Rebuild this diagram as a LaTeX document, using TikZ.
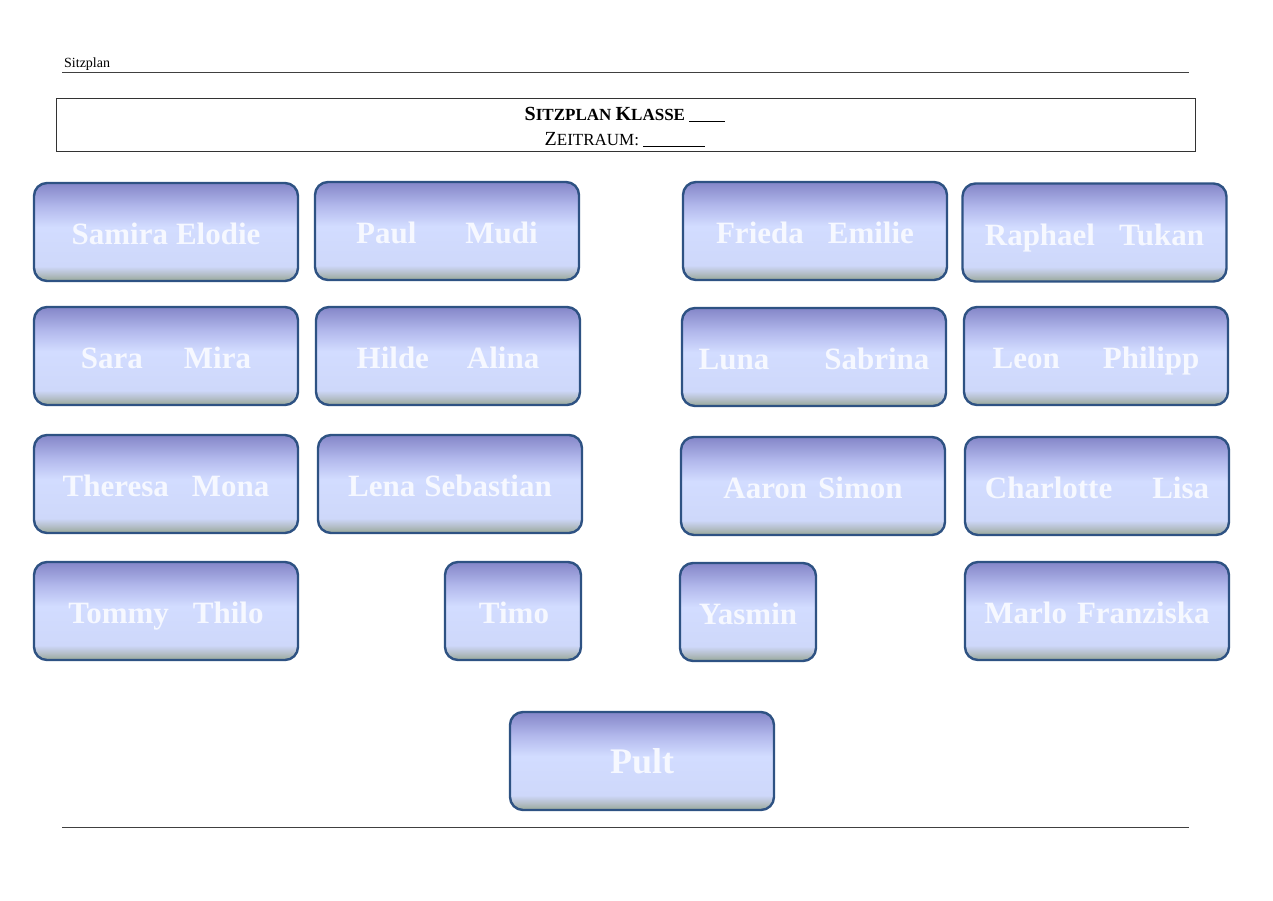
\documentclass[tikz,border=0pt]{standalone}
\usepackage{fontspec}
\setmainfont{Liberation Serif}
\definecolor{shA}{HTML}{98A898}
\definecolor{shB}{HTML}{B4BEC8}
\definecolor{shC}{HTML}{CED8FA}
\definecolor{shD}{HTML}{D2DCFF}
\definecolor{shE}{HTML}{B2B8EC}
\definecolor{shF}{HTML}{8486C8}
\definecolor{seatborder}{HTML}{2E5283}
\definecolor{seattext}{HTML}{F6F8FF}
\pgfdeclareverticalshading{seatshade}{100bp}{color(0bp)=(shA); color(25bp)=(shA); color(28.5bp)=(shB); color(32.5bp)=(shC); color(52.5bp)=(shD); color(63bp)=(shE); color(75bp)=(shF); color(100bp)=(shF)}
\tikzset{
  seatbox/.style={draw=seatborder, line width=2.4pt, rounded corners=13pt, shading=seatshade,
    minimum height=98pt, minimum width=264pt, inner sep=0pt, text=seattext,
    text height=28pt, text depth=3pt,
    font=\fontsize{31}{34}\selectfont\bfseries},
  smallseat/.style={seatbox, minimum width=136pt},
  rule/.style={draw=black!75, line width=0.8pt}
}
\newcommand{\gap}[1]{\hspace{#1pt}}
\begin{document}
\begin{tikzpicture}[x=1pt,y=-1pt]
\useasboundingbox[fill=white] (0,0) rectangle (1273,900);
% header
\node[anchor=base west, font=\fontsize{14}{16}\selectfont, inner sep=0pt] (hdr) at (64,67) {Sitzplan};
\coordinate (hl1) at (62,72); \coordinate (hl2) at (1189,72);
\draw[rule] (hl1) -- (hl2);
\node[draw=black!80, line width=0.8pt, minimum width=1139pt, minimum height=53pt, inner sep=0pt] (title) at (625.5,124.5) {};
\node[font=\fontsize{17}{19}\selectfont\bfseries, anchor=base, inner sep=0pt] (t1) at (625,120) {{\fontsize{20}{20}\selectfont S}ITZPLAN {\fontsize{20}{20}\selectfont K}LASSE \underline{\hspace{36pt}}};
\node[font=\fontsize{17}{19}\selectfont, anchor=base, inner sep=0pt] (t2) at (625,145) {{\fontsize{20}{20}\selectfont Z}EITRAUM: \underline{\hspace{62pt}}};
% row 1
\node[seatbox] (s1) at (166,232) {Samira\gap{8}Elodie};
\node[seatbox] (s2) at (447,231) {Paul\gap{49}Mudi};
\node[seatbox] (s3) at (815,231) {Frieda\gap{24}Emilie};
\node[seatbox] (s4) at (1094.5,232.5) {Raphael\gap{24}Tukan};
% row 2
\node[seatbox] (s5) at (166,356) {Sara\gap{41}Mira};
\node[seatbox] (s6) at (448,356) {Hilde\gap{38}Alina};
\node[seatbox] (s7) at (814,357) {Luna\gap{55}Sabrina};
\node[seatbox] (s8) at (1096,356) {Leon\gap{43}Philipp};
% row 3
\node[seatbox] (s9) at (166,484) {Theresa\gap{23}Mona};
\node[seatbox] (s10) at (450,484) {Lena\gap{9}Sebastian};
\node[seatbox] (s11) at (813,486) {Aaron\gap{11}Simon};
\node[seatbox] (s12) at (1097,486) {Charlotte\gap{40}Lisa};
% row 4
\node[seatbox] (s13) at (166,611) {Tommy\gap{24}Thilo};
\node[smallseat] (s14) at (513,611) {\gap{2}Timo};
\node[smallseat] (s15) at (748,612) {Yasmin};
\node[seatbox] (s16) at (1097,611) {Marlo\gap{10}Franziska};
% desk
\node[seatbox, font=\fontsize{36}{40}\selectfont\bfseries] (pult) at (642,761) {Pult};
% footer line
\coordinate (fl1) at (62,827); \coordinate (fl2) at (1189,827);
\draw[rule] (fl1) -- (fl2);
\end{tikzpicture}
\end{document}
